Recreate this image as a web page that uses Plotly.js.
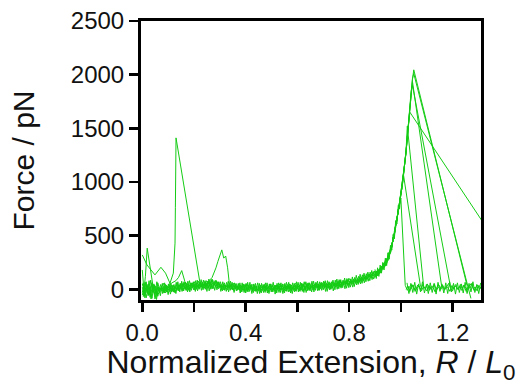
<!DOCTYPE html>
<html>
<head>
<meta charset="utf-8">
<script src="https://cdn.plot.ly/plotly-3.0.1.min.js"></script>
<style>html,body{margin:0;padding:0;background:#fff;}#chart{width:521px;height:385px;}</style>
</head>
<body>
<div id="chart"></div>
<script>
// ---------- data (force in pN vs normalized extension R/L0) ----------
// baseline noise segments: sampled every 0.0075
const baseStep = 0.0075;
const baseA = [20,-45,35,-60,10,55,-30,-70,25,-15,
  30,-20,45,-10,5,35,-25,20,-5,40,
  10,55,5,40,-5,60,15,45,0,50,
  30,65,10,55,20,70,5,50,25,60,
  15,45,-5,40,10,50,0,35,20,-10,
  30,0,40,-15,25,5,35,-10,30,10,
  -15,30,5,35,-10,25,-5,30,15,-20,
  25,-5,35,10,-15,30,0,40,-10,25,
  5,40,-5,35,15,45,0,30,10,50,
  15,50,5,45,20,55,10,40,25,60,
  30,65,20,55,40,70,35,75,45,80,
  55,85,65,100,80,115,95,130,110,145,
  140];
const baseB = [-30,40,-80,15,-50,60,-20,30,-65,5,
  -10,25,-35,15,-20,45,0,-30,25,-15,
  40,0,30,-10,45,20,60,-5,35,75,
  20,55,35,80,50,90,110,150,200,260,
  320,367,290,310,200,35,45,-10,30,5,
  20,-20,35,10,-5,40,0,25,-15,30,
  10,-25,20,40,-5,15,35,-20,25,0,
  35,-10,20,45,0,30,-20,25,10,40,
  15,-15,30,50,10,35,-5,45,20,10,
  40,10,55,25,45,15,60,30,50,35,
  60,25,70,45,55,80,40,70,60,90,
  70,100,75,110,90,125,105,140,120,150,
  130];
const baseC = [50,-10,70,-40,20,-85,40,-25,60,-5,
  25,55,-15,30,10,-25,40,5,50,-5,
  55,20,65,30,-10,45,25,70,15,40,
  45,10,60,30,75,15,55,40,85,20,
  50,10,45,20,-5,35,25,55,5,30,
  -5,25,15,45,-20,20,10,-15,35,0,
  25,5,-10,45,10,-25,30,15,-5,40,
  0,30,15,-20,35,10,50,-5,20,-15,
  35,20,55,-10,25,5,60,15,40,25,
  30,-5,40,20,65,5,35,55,15,45,
  50,35,85,30,60,50,90,55,65,95,
  60,95,70,115,85,110,100,135,125,160,
  150];
const baseD = [-55,25,-20,45,-75,5,50,-40,15,-30,
  5,-30,20,-5,35,-15,15,-20,10,30,
  15,-15,30,50,20,5,40,25,55,10,
  60,25,40,15,70,35,95,45,30,70,
  35,-5,20,40,15,55,10,-5,45,15,
  40,10,-10,30,50,-5,20,45,5,-15,
  0,40,20,-15,30,10,50,-5,20,35,
  20,50,-5,25,5,45,15,-15,30,55,
  25,0,20,45,-10,55,30,20,-5,35,
  55,20,35,60,10,50,40,0,65,30,
  45,75,40,60,80,45,70,100,50,75,
  90,60,105,80,120,95,130,115,140,125,
  135];
const baseStartE = 0.00375;
const baseE = [-70,65,-35,80,-90,30,-50,70,-20,45,
  -40,60,-25,50,-45,35,-30,65,-15,55,
  -20,70,-10,75,-25,60,-5,80,-15,65,
  -10,85,0,75,-15,90,5,80,-5,70,
  -20,70,-10,65,-25,75,-5,60,-15,55,
  -35,60,-30,55,-25,65,-40,50,-20,60,
  -40,55,-30,60,-35,50,-25,65,-45,55,
  -30,60,-40,55,-20,65,-35,60,-25,70,
  -25,65,-20,70,-30,60,-15,75,-25,65,
  -15,70,-10,75,-20,80,-5,70,-15,85,
  0,90,10,85,5,100,15,95,20,110,
  40,120,50,135,60,145,75,160,90,170,
  150];
const baseStartF = 0.0025;
const baseF = [60,-80,45,-55,85,-30,40,-95,20,-60,
  55,-35,40,-50,60,-20,45,-40,70,-25,
  75,-15,65,-25,80,-10,70,-20,85,0,
  90,-5,80,-20,95,0,85,-10,75,5,
  70,-15,60,-20,75,-10,65,-30,55,-5,
  60,-25,50,-35,65,-20,45,-30,55,-40,
  55,-35,45,-30,60,-40,50,-25,40,-35,
  60,-30,50,-35,65,-25,45,-40,55,-20,
  65,-20,55,-30,70,-15,60,-25,75,-10,
  75,-10,65,-5,80,-20,70,0,85,-5,
  95,5,90,15,105,10,100,20,115,25,
  130,45,140,55,150,70,160,80,175,95,
  145];

// post-rupture baseline
const flatStartA = 1.0175, flatStartB = 1.02, flatStartC = 1.02375;
const flatA = [35,-10,25,5,40,-20,15,30,-5,45,10,-15,35,0,25,50,-10,20,5,40,
  -5,30,15,-20,35,10,45,0,25,-10,40,15,-5,30,55,5,20,-15,35,10];
const flatB = [0,30,-20,45,15,-5,40,20,-15,25,5,50,-10,30,15,-25,20,40,0,35,
  -5,25,55,10,-15,30,20,-5,45,5,35,-20,25,10,50,-10,15,40,0,25];
const flatC = [60,-40,55,-30,65,-45,50,-25,70,-35,45,-40,60,-30,55,-45,65,-20,50,-35,
  60,-40,70,-25,55,-45,60,-30,50,-35,65,-40,55,-25,70,-30,45,-40,60];

// early events near the surface
const spike1X = [0, 0.018, 0.049, 0.072, 0.09, 0.107, 0.12, 0.1266, 0.128, 0.1295, 0.1305, 0.223, 0.235];
const spike1Y = [320, 227, 134, 205, 150, 56, 150, 430, 760, 1120, 1411, 60, 25];
const spike2X = [0.005, 0.012, 0.019, 0.03, 0.049, 0.058];
const spike2Y = [-40, 120, 383, 200, -90, -20];
const spike3X = [0, 0.003, 0.008, 0.012];
const spike3Y = [180, 90, -60, 10];
const bumpX = [0.1, 0.115, 0.13, 0.14, 0.1525, 0.158, 0.165, 0.175];
const bumpY = [30, 60, 80, 110, 174, 130, 70, 40];

// stretching up to rupture (sampled every 0.005 from 0.90)
const riseX = [0.9,0.905,0.91,0.915,0.92,0.925,0.93,0.935,0.94,0.945,0.95,0.955,0.96,0.965,0.97,
  0.975,0.98,0.985,0.99,0.995,1.0,1.005,1.01,1.015,1.02,1.025,1.03,1.035,1.04,1.045,1.05];
const riseNoise = [185,100,200,120,225,150,250,180,290,220,340,280,410,365,510,470,640,610,780,750,900];
const pull1 = [155,127,175,152,193,168,217,214,265,247,300,305,375,398,482,510,598,645,742,795,890,948,1058,1154,1290,1412,1565,1695,1856,1956,2045];
const pull2 = [117,164,138,182,150,205,195,246,224,277,268,343,346,430,450,535,578,670,722,812,870,966,1042,1168,1274,1428,1554,1705,1842,1965,2010];
const pull3 = [140,170,130,170,163,216,187,228,216,281,282,349,340,420,445,538,580,672,716,808,868,970,1044,1166,1270,1425,1552,1704,1840,1935];
const pull4 = [110,152,165,140,199,180,225,202,252,240,316,309,370,392,474,512,606,646,740,790,894,952,1060,1150,1288,1414,1568,1692,1854,1900];
const pull5 = [147,134,170,144,181,212,191,238,220,287,274,335,336,426,448,540,574,668,720,814,870,972,1042,1170,1276,1426,1550,1650];
const pull6 = [125,158,126,186,169,172,231,210,258,255,310,303,378,400,484,506,602,648,744,794,890,950,1062,1152,1286,1520];
const pull7 = [157,130,156,180,155,204,189,244,232,279,266,345,348,428,446,536,582,672,720,808,874,966,1070];
const pull8 = [129,162,132,174,185,174,227,208,260,245,302,317,376,390,478,508,600,650,736,792,850];
// point reached right after rupture
const ruptureX = [1.256, 1.271, 1.157, 1.191, 1.36, 1.088, 1.076, 1.017];
const ruptureY = [35, -85, 40, 35, 470, 30, 25, 35];

// ---------- traces ----------
const green = 'rgb(20,204,20)';
const ln = {color: green, width: 1};
const traces = [];
const addUniform = (x0, y) => traces.push({type:'scatter', mode:'lines', x0:x0, dx:baseStep, y:y, line:ln});
[baseA, baseB, baseC, baseD].forEach(y => addUniform(0, y));
addUniform(baseStartE, baseE);
addUniform(baseStartF, baseF);
addUniform(flatStartA, flatA);
addUniform(flatStartB, flatB);
addUniform(flatStartC, flatC);
[[spike1X,spike1Y],[spike2X,spike2Y],[spike3X,spike3Y],[bumpX,bumpY],
 [riseX.slice(0, riseNoise.length), riseNoise]].forEach(p =>
  traces.push({type:'scatter', mode:'lines', x:p[0], y:p[1], line:ln}));
[pull1,pull2,pull3,pull4,pull5,pull6,pull7,pull8].forEach((p, i) => {
  traces.push({type:'scatter', mode:'lines',
    x: riseX.slice(0, p.length).concat([ruptureX[i]]),
    y: p.concat([ruptureY[i]]), line: ln});
});

const font = 'Liberation Sans, Arial, sans-serif';
const tickStyle = {ticks:'outside', ticklen:9, tickwidth:2.5, tickcolor:'#000'};
const axisCommon = Object.assign({
  showgrid:false, zeroline:false, showline:true, mirror:true,
  linecolor:'#000', linewidth:3,
  tickfont:{family:font, size:24, color:'#111'}
}, tickStyle);
const layout = {
  width:521, height:385,
  margin:{l:141, r:40, t:21, b:85},
  paper_bgcolor:'#fff', plot_bgcolor:'#fff',
  showlegend:false,
  font:{family:font, color:'#111'},
  xaxis: Object.assign({}, axisCommon, {
    range:[-0.005, 1.31],
    tick0:0, dtick:0.4, tickformat:'.1f',
    minor: Object.assign({dtick:0.2, tick0:0, showgrid:false}, tickStyle),
    title:{text:'Normalized Extension, <i>R</i> / <i>L</i><sub>0</sub>', font:{family:font, size:32, color:'#111'}, standoff:5}
  }),
  yaxis: Object.assign({}, axisCommon, {
    range:[-100, 2500],
    tick0:0, dtick:500,
    title:{text:'Force / pN', font:{family:font, size:30, color:'#111'}, standoff:28}
  })
};
Plotly.newPlot('chart', traces, layout, {displayModeBar:false, staticPlot:true});
</script>
</body>
</html>
